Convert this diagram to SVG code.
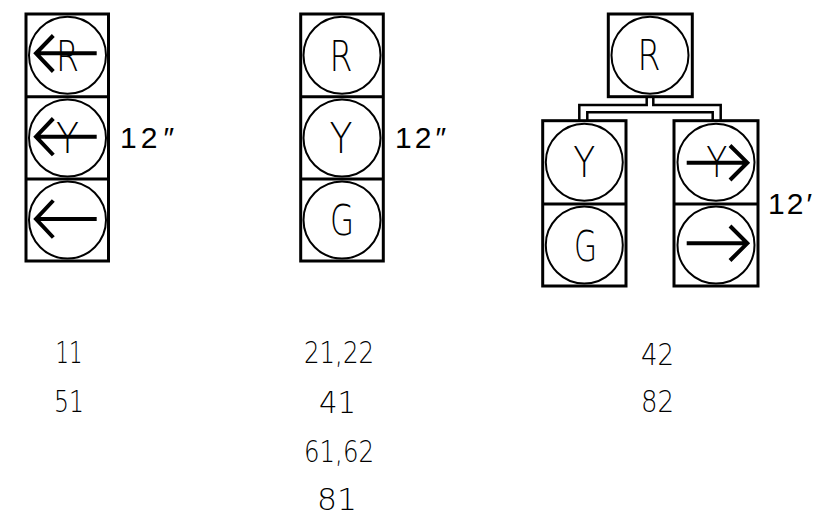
<svg xmlns="http://www.w3.org/2000/svg" width="818" height="517" viewBox="0 0 818 517">
<style>
.box{fill:none;stroke:#000;stroke-width:3}
.lens{fill:none;stroke:#000;stroke-width:2}
.arr{fill:none;stroke:#000;stroke-width:4}
.pipe{fill:none;stroke:#000;stroke-width:2.5}
.ltr{font-family:"DejaVu Sans","Liberation Sans",sans-serif;font-weight:200;font-size:42px;text-anchor:middle;fill:#000}
.num{font-family:"DejaVu Sans","Liberation Sans",sans-serif;font-weight:200;font-size:31px;text-anchor:middle;fill:#000}
.size{font-family:"Liberation Sans",Arial,sans-serif;font-size:30px;fill:#000}
</style>
<rect width="818" height="517" fill="#fff"/>
<g id="connectors">
<path class="pipe" d="M646.7,97 V105 H579.3 V120.7 M653.3,97 V105 H720.7 V120.7 M587.3,120.7 V112.3 H712.7 V120.7"/>
</g>
<g id="head-left">
<rect class="box" x="26" y="14" width="82.5" height="247"/>
<path class="box" d="M26,96.7 H108.5 M26,179 H108.5"/>
<circle class="lens" cx="67.5" cy="55.3" r="38.5"/>
<circle class="lens" cx="67.5" cy="138" r="38.5"/>
<circle class="lens" cx="67.5" cy="220" r="38.5"/>
<path class="arr" d="M53.3,35.5 L36,53.3 L53.3,71.5 M36,53.3 H96.7"/>
<path class="arr" d="M53.3,118.5 L36,136.7 L53.3,155 M36,136.7 H96.7"/>
<path class="arr" d="M53.3,200.5 L36,219 L53.3,237.5 M36,219 H96.7"/>
<text class="ltr" x="67.5" y="70.7" textLength="23" lengthAdjust="spacingAndGlyphs">R</text>
<text class="ltr" x="67.5" y="152.7" textLength="23" lengthAdjust="spacingAndGlyphs">Y</text>
<text class="size" x="120" y="148.3">1<tspan dx="4">2</tspan><tspan dx="6">″</tspan></text>
</g>
<g id="head-middle">
<rect class="box" x="300.7" y="14" width="82.6" height="247"/>
<path class="box" d="M300.7,96.7 H383.3 M300.7,179 H383.3"/>
<circle class="lens" cx="342" cy="55.3" r="38.5"/>
<circle class="lens" cx="342" cy="138" r="38.5"/>
<circle class="lens" cx="342" cy="220" r="38.5"/>
<text class="ltr" x="341" y="70.7" textLength="23" lengthAdjust="spacingAndGlyphs">R</text>
<text class="ltr" x="341" y="152.7" textLength="23" lengthAdjust="spacingAndGlyphs">Y</text>
<text class="ltr" x="342" y="234.5" textLength="24" lengthAdjust="spacingAndGlyphs">G</text>
<text class="size" x="395" y="148.3">1<tspan dx="3">2</tspan><tspan dx="4">″</tspan></text>
</g>
<g id="head-right-top">
<rect class="box" x="608.3" y="14" width="84" height="82.7"/>
<circle class="lens" cx="650" cy="55.3" r="38.5"/>
<text class="ltr" x="649" y="70" textLength="23" lengthAdjust="spacingAndGlyphs">R</text>
</g>
<g id="head-right-left">
<rect class="box" x="542.7" y="120.7" width="83.3" height="165.3"/>
<path class="box" d="M542.7,204 H626"/>
<circle class="lens" cx="584.3" cy="162.3" r="38.5"/>
<circle class="lens" cx="584.3" cy="245" r="38.5"/>
<text class="ltr" x="584.3" y="176.7" textLength="22" lengthAdjust="spacingAndGlyphs">Y</text>
<text class="ltr" x="585.5" y="260.5" textLength="23" lengthAdjust="spacingAndGlyphs">G</text>
</g>
<g id="head-right-right">
<rect class="box" x="674" y="120.7" width="84" height="165.3"/>
<path class="box" d="M674,204 H758"/>
<circle class="lens" cx="716" cy="162.3" r="38.5"/>
<circle class="lens" cx="716" cy="245" r="38.5"/>
<path class="arr" d="M730,145.5 L747.3,162.7 L730,180 M686.7,162.7 H747.3"/>
<path class="arr" d="M730,226 L747.3,243.3 L730,260.5 M686.7,243.3 H747.3"/>
<text class="ltr" x="716.7" y="176.7" textLength="21" lengthAdjust="spacingAndGlyphs">Y</text>
<text class="size" x="768" y="214">1<tspan dx="2">2</tspan><tspan dx="3">′</tspan></text>
</g>
<g id="labels">
<text class="num" x="69" y="363.3" textLength="27" lengthAdjust="spacingAndGlyphs">11</text>
<text class="num" x="69" y="411.7" textLength="30" lengthAdjust="spacingAndGlyphs">51</text>
<text class="num" x="339" y="363.3" textLength="70" lengthAdjust="spacingAndGlyphs">21,22</text>
<text class="num" x="337.5" y="412.5" textLength="37" lengthAdjust="spacingAndGlyphs">41</text>
<text class="num" x="339" y="461.7" textLength="70" lengthAdjust="spacingAndGlyphs">61,62</text>
<text class="num" x="337" y="510" textLength="40" lengthAdjust="spacingAndGlyphs">81</text>
<text class="num" x="657.5" y="365" textLength="33" lengthAdjust="spacingAndGlyphs">42</text>
<text class="num" x="657.5" y="411.7" textLength="33" lengthAdjust="spacingAndGlyphs">82</text>
</g>
</svg>
